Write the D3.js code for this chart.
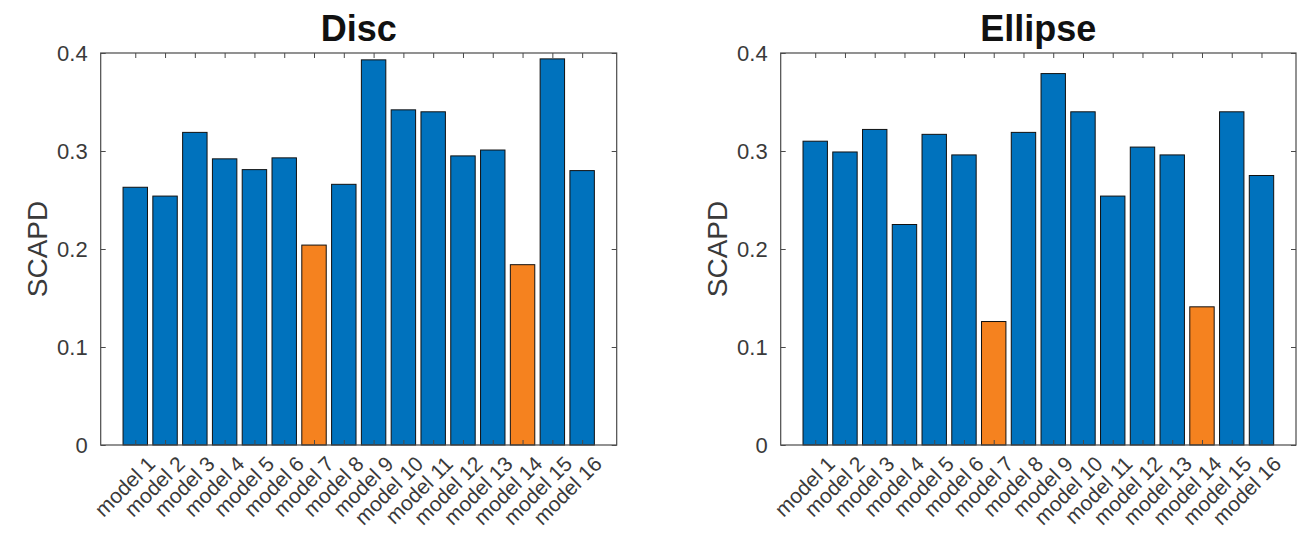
<!DOCTYPE html>
<html><head><meta charset="utf-8">
<script src="https://cdn.jsdelivr.net/npm/d3@7"></script>
<style>body{margin:0;background:#fff}svg{display:block}</style>
</head><body>
<script>
const categories = ["model 1","model 2","model 3","model 4","model 5","model 6","model 7","model 8","model 9","model 10","model 11","model 12","model 13","model 14","model 15","model 16"];
const discValues = [0.263,0.254,0.319,0.292,0.281,0.293,0.204,0.266,0.393,0.342,0.340,0.295,0.301,0.184,0.394,0.280];
const ellipseValues = [0.310,0.299,0.322,0.225,0.317,0.296,0.126,0.319,0.379,0.340,0.254,0.304,0.296,0.141,0.340,0.275];
const highlighted = ["model 7","model 14"];
const yTicks = [0,0.1,0.2,0.3,0.4];
const titles = ["Disc","Ellipse"];
const yLabel = "SCAPD";

const W=1298,H=545;
const svg=d3.select("body").append("svg").attr("width",W).attr("height",H);
const font="Liberation Sans, Arial, Helvetica, sans-serif";
const axisColor="#4a4a4a";

function panel(x0,x1,values,title){
  const top=53,bot=445;
  const g=svg.append("g");
  const n=categories.length;
  const idx=d3.range(n);
  const x=d3.scaleLinear().domain([-1.16,n-1+1.16]).range([x0,x1]);
  const y=d3.scaleLinear().domain([0,0.4]).range([bot,top]);
  const bw=(x(1)-x(0))*0.82;
  g.selectAll("rect.bar").data(values).join("rect").attr("class","bar")
    .attr("x",(d,i)=>x(i)-bw/2).attr("y",d=>y(d)).attr("width",bw).attr("height",d=>y(0)-y(d))
    .attr("fill",(d,i)=>highlighted.includes(categories[i])?"#F5821F":"#0072BD")
    .attr("stroke","#111").attr("stroke-width",1);
  g.append("rect").attr("x",x0).attr("y",top).attr("width",x1-x0).attr("height",bot-top)
    .attr("fill","none").attr("stroke",axisColor).attr("stroke-width",1.2);
  const xb=d3.axisBottom(x).tickValues(idx).tickSize(-5).tickFormat("");
  const xt=d3.axisTop(x).tickValues(idx).tickSize(-5).tickFormat("");
  const ga=g.append("g").attr("transform",`translate(0,${bot})`).call(xb);
  const gt=g.append("g").attr("transform",`translate(0,${top})`).call(xt);
  const yl=d3.axisLeft(y).tickValues(yTicks).tickSize(-5).tickPadding(13).tickFormat(d=>d===0?"0":d3.format(".1f")(d));
  const yr=d3.axisRight(y).tickValues(yTicks).tickSize(-5).tickFormat("");
  const gl=g.append("g").attr("transform",`translate(${x0},0)`).call(yl);
  const gr=g.append("g").attr("transform",`translate(${x1},0)`).call(yr);
  [ga,gt,gl,gr].forEach(a=>{a.select(".domain").remove();a.selectAll("line").attr("stroke",axisColor);});
  gl.selectAll("text").attr("font-family",font).attr("font-size",22).attr("fill","#3a3a3a");
  g.selectAll("text.xl").data(categories).join("text").attr("class","xl")
    .attr("transform",(d,i)=>`translate(${x(i)+10},${bot+9}) rotate(-45)`)
    .attr("text-anchor","end").attr("dy","0.75em")
    .attr("font-family",font).attr("font-size",21).attr("fill","#3a3a3a").text(d=>d);
  g.append("text").attr("x",(x0+x1)/2).attr("y",41).attr("text-anchor","middle")
    .attr("font-family",font).attr("font-weight","bold").attr("font-size",36).attr("fill","#111").text(title);
  g.append("text").attr("transform",`translate(${x0-54},${(top+bot)/2}) rotate(-90)`)
    .attr("text-anchor","middle").attr("font-family",font).attr("font-size",28).attr("fill","#3a3a3a").text(yLabel);
}
panel(100.7,616.7,discValues,titles[0]);
panel(780.7,1296,ellipseValues,titles[1]);
</script>
</body></html>
